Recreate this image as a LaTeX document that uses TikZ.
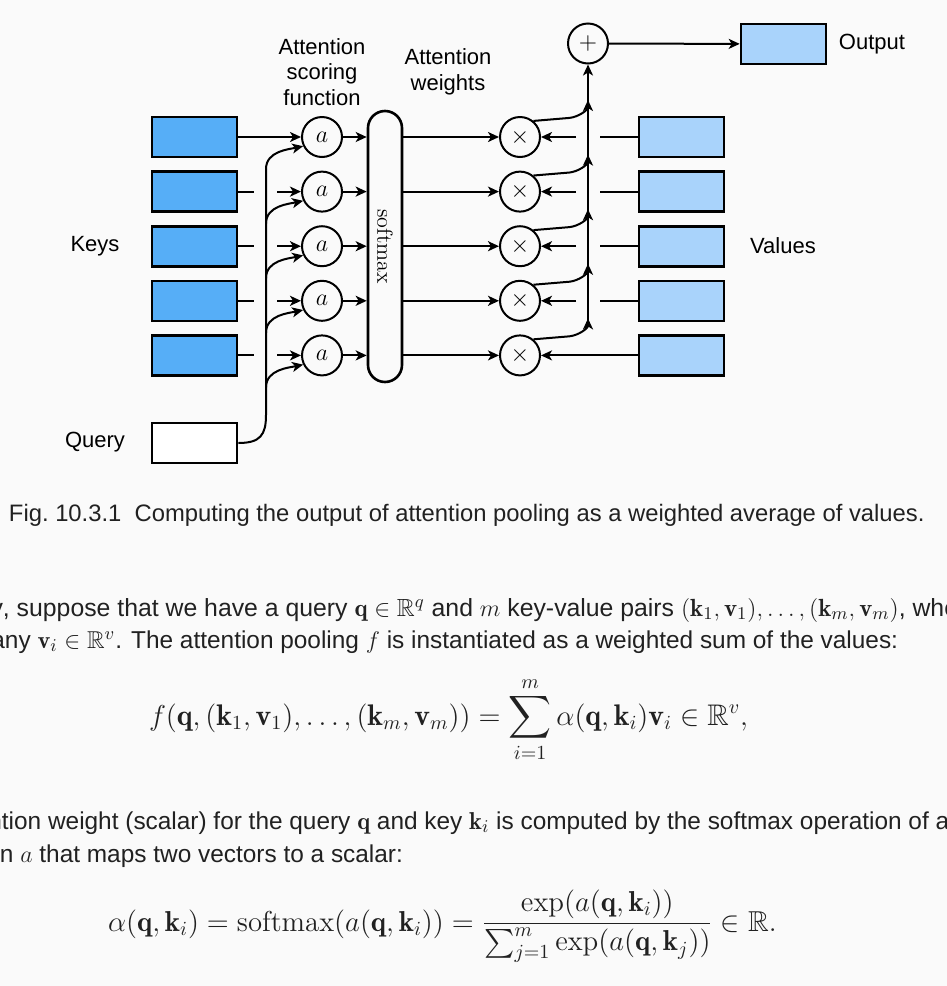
\documentclass[tikz,border=0pt]{standalone}
\usepackage{amsmath,amssymb}
\usepackage{fontspec}
\usepackage{tikz}
\usetikzlibrary{arrows.meta,positioning,calc}
\newfontfamily\labelfont{Liberation Sans}
\definecolor{paper}{HTML}{FAFAFA}
\definecolor{keyblue}{HTML}{56AEF7}
\definecolor{valblue}{HTML}{A9D3FB}
\definecolor{ink}{gray}{0.13}

\begin{document}
\begin{tikzpicture}[x=0.5pt,y=-0.5pt,line width=1pt,
  tip/.style={-{Stealth[length=5.5pt,width=5pt,inset=1.5pt]}},
  vec/.style={draw,line width=1.3pt,minimum width=42.5pt,minimum height=20pt,inner sep=0pt},
  op/.style={draw,circle,minimum size=20pt,inner sep=0pt,font=\fontsize{13}{14}\selectfont},
  lbl/.style={font=\labelfont\fontsize{11}{12.75}\selectfont,align=center},
  body/.style={font=\labelfont\fontsize{12.2}{14}\selectfont,text=ink,anchor=base west,inner sep=0pt}]
\useasboundingbox (0,0) rectangle (947,986);
\clip (0,0) rectangle (947,986);
\fill[paper] (0,0) rectangle (947,986);

% five key / score / weight / value rows
\foreach \i/\y in {1/137,2/191.6,3/246.2,4/300.8,5/355.4} {
  \node[vec,fill=keyblue] (k\i) at (194.5,\y) {};
  \node[op] (a\i) at (322,\y) {$a$};
  \node[op] (m\i) at (520,\y) {$\times$};
  \node[vec,fill=valblue] (v\i) at (681.5,\y) {};
  \coordinate (b\i) at (266,\y+32);
  \coordinate (s\i) at (588,\y-37);
}
\node[vec,fill=white] (q) at (194.5,443) {};
\node[draw,line width=1.3pt,rounded corners=8.5pt,minimum width=17pt,minimum height=135.5pt] (sm) at (385,246.5) {};
\node[rotate=-90,font=\fontsize{11}{12}\selectfont] (smtext) at (sm) {softmax};
\node[op] (p) at (588,43.5) {$+$};
\node[vec,fill=valblue] (out) at (783.5,44) {};
\coordinate (qbus) at (266,415);
\coordinate (sbot) at (588,324);

% keys and query into the scoring function
\draw[tip] (k1) -- (a1);
\foreach \i in {2,...,5} {
  \draw (k\i.east) -- ++(16,0);
  \draw[tip] ($(a\i.west)+(-24,0)$) -- (a\i);
}
\draw (q.east) .. controls +(22,0) and +(0,20) .. (qbus) -- (b1);
\foreach \i in {1,...,5}
  \draw[tip] (b\i) .. controls +(0,-18) and +(-14,3) .. (a\i.206);

% scores through softmax, weights times values
\foreach \i in {1,...,5} {
  \draw[tip] (a\i) -- (a\i -| sm.west);
  \draw[tip] (sm.east |- m\i) -- (m\i);
  \draw[tip] (m\i.50) -- ++(36,-3) .. controls +(9,-1) and +(0,10) .. (s\i);
}
\foreach \i in {1,...,4} {
  \draw (v\i.west) -- ++(-38,0);
  \draw[tip] ($(m\i.east)+(35,0)$) -- (m\i);
}
\draw[tip] (v5) -- (m5);
\draw[tip] (sbot) -- (p);
\draw[tip] (p) -- (out);

\node[lbl] (keys) at (95,246) {Keys};
\node[lbl] (query) at (95,442) {Query};
\node[lbl] (values) at (783,246) {Values};
\node[lbl] (output) at (872,44) {Output};
\node[lbl] (scoring) at (322,72) {Attention\\scoring\\function};
\node[lbl] (weights) at (448,72) {Attention\\weights};

% caption and the text below it
\node[body,font=\labelfont\fontsize{11.9}{14}\selectfont] (cap) at (8,521) {Fig.~10.3.1\ \ Computing the output of attention pooling as a weighted average of values.};
\node[body,font=\labelfont\fontsize{12.4}{14}\selectfont] (line1) at (2,616) {\llap{Mathematically}, suppose that we have a query $\mathbf{q} \in \mathbb{R}^q$ and $m$ key-value pairs $(\mathbf{k}_1, \mathbf{v}_1), \ldots, (\mathbf{k}_m, \mathbf{v}_m)$, where any $\mathbf{k}_i \in \mathbb{R}^k$ and};
\node[body] (line2) at (4,648) {\llap{and a}ny $\mathbf{v}_i \in \mathbb{R}^v$. The attention pooling $f$ is instantiated as a weighted sum of the values:};
\node[body,font=\fontsize{14.9}{17}\selectfont] (eq1) at (148,725) {$\displaystyle f(\mathbf{q}, (\mathbf{k}_1, \mathbf{v}_1), \ldots, (\mathbf{k}_m, \mathbf{v}_m)) = \sum_{i=1}^m \alpha(\mathbf{q}, \mathbf{k}_i)\mathbf{v}_i \in \mathbb{R}^v,$};
\node[body] (line3) at (1,829) {\llap{where the atten}tion weight (scalar) for the query $\mathbf{q}$ and key $\mathbf{k}_i$ is computed by the softmax operation of an attention scoring};
\node[body] (line4) at (-1,862) {\llap{functio}n $a$ that maps two vectors to a scalar:};
\node[body,font=\fontsize{14.4}{17}\selectfont] (eq2) at (107,931) {$\displaystyle \alpha(\mathbf{q}, \mathbf{k}_i) = \mathrm{softmax}(a(\mathbf{q}, \mathbf{k}_i)) = \frac{\exp(a(\mathbf{q}, \mathbf{k}_i))}{\sum_{j=1}^m \exp(a(\mathbf{q}, \mathbf{k}_j))} \in \mathbb{R}.$};
\end{tikzpicture}
\end{document}
